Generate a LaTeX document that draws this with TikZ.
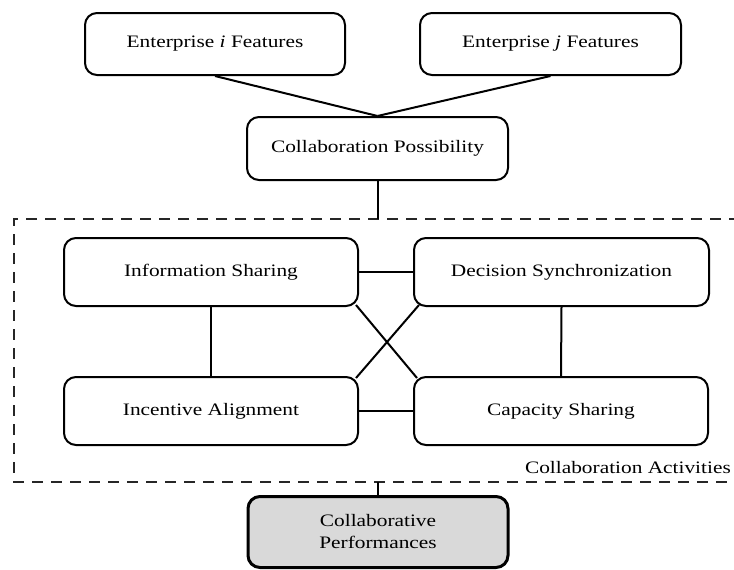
\documentclass[tikz,border=0pt]{standalone}
\usepackage{fontspec}
\setmainfont[FakeStretch=1.22]{Liberation Serif}
\begin{document}
\begin{tikzpicture}[x=1pt,y=-1pt,
  box/.style={draw, line width=2pt, rounded corners=12pt, fill=white,
    font=\fontsize{17.5}{22}\selectfont, align=center, inner sep=0pt},
  link/.style={line width=2pt},
  frame/.style={line width=2pt, dash pattern=on 11pt off 8pt, color=black!85},
  perfbox/.style={box, line width=3pt, fill=black!15}]
\useasboundingbox (0,0) rectangle (734,570);
% top row
\node[box, minimum width=260pt, minimum height=62pt] (ei) at (215,44) {Enterprise \textit{i} Features};
\node[box, minimum width=261pt, minimum height=62pt] (ej) at (550.5,44) {Enterprise \textit{j} Features};
\node[box, minimum width=261pt, minimum height=63pt] (cp) at (377.5,148.5) {Collaboration Possibility};
% activities
\node[box, minimum width=294pt, minimum height=68pt] (info) at (211,272) {Information Sharing};
\node[box, minimum width=295pt, minimum height=68pt] (dec) at (561.5,272) {Decision Synchronization};
\node[box, minimum width=294pt, minimum height=68pt] (inc) at (211,411) {Incentive Alignment};
\node[box, minimum width=294pt, minimum height=68pt] (cap) at (561,411) {Capacity Sharing};
% performance
\node[perfbox, minimum width=260pt, minimum height=71pt] (perf) at (378,532) {Collaborative\\Performances};
% dashed frame
\coordinate (dtop) at (377.5,219);
\coordinate (dbot) at (378,482);
\draw[frame] (740,219) -- (14,219) -- (14,482) -- (740,482);
\node[anchor=base east, inner sep=0pt, font=\fontsize{17.5}{22}\selectfont] (ca) at (731,473) {Collaboration Activities};
% connectors
\draw[link] (ei.south) -- (cp.north);
\draw[link] (ej.south) -- (cp.north);
\draw[link] (cp.south) -- (dtop);
\draw[link] (dbot) -- (perf.north);
\draw[link] (info.east) -- (dec.west);
\draw[link] (inc.east) -- (cap.west);
\draw[link] (info.south) -- (inc.north);
\draw[link] (dec.south) -- (cap.north);
\draw[link] ([xshift=-3pt,yshift=2pt]info.south east) -- ([xshift=4pt,yshift=-2pt]cap.north west);
\draw[link] ([xshift=6pt,yshift=2pt]dec.south west) -- ([xshift=-3pt,yshift=-2pt]inc.north east);
\end{tikzpicture}
\end{document}
